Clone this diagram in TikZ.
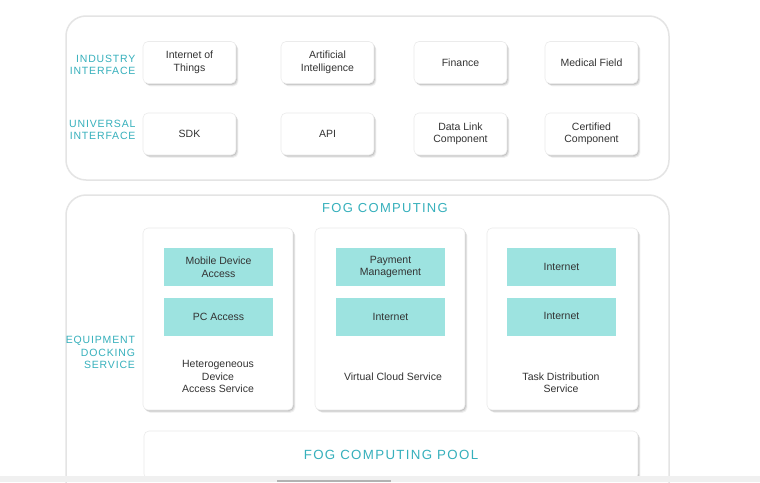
\documentclass[tikz,border=0pt]{standalone}
\usepackage{fontspec}
\setmainfont{Liberation Sans}
\newfontfamily\spacedfont[LetterSpace=8]{Liberation Sans}
\newfontfamily\bigspacedfont[LetterSpace=10]{Liberation Sans}
\usetikzlibrary{shadows}
\definecolor{teal1}{HTML}{36B0BC}
\definecolor{cellfill}{HTML}{9DE3E0}
\definecolor{txt}{HTML}{333333}
\definecolor{frame}{HTML}{E4E4E4}
\tikzset{
  whitebox/.style={draw=black!8, line width=0.6pt, fill=white, rounded corners=5pt, inner sep=0pt,
    drop shadow={shadow xshift=2.4pt, shadow yshift=-2.8pt, fill=black, opacity=0.06},
    drop shadow={shadow xshift=1.6pt, shadow yshift=-1.9pt, fill=black, opacity=0.09},
    drop shadow={shadow xshift=0.8pt, shadow yshift=-1pt, fill=black, opacity=0.10}},
  itembox/.style={whitebox, minimum width=93pt, minimum height=42pt, align=center,
    font=\fontsize{10.5}{12.5}\selectfont, text=txt},
  cell/.style={fill=cellfill, draw=none, minimum width=109pt, minimum height=38pt, align=center,
    font=\fontsize{10.5}{12.5}\selectfont, text=txt, inner sep=0pt},
  sidelabel/.style={align=right, anchor=east, text=teal1, font=\spacedfont\fontsize{10.5}{12.5}\selectfont},
  caption/.style={align=center, text=txt, font=\fontsize{10.5}{12.5}\selectfont},
  outerframe/.style={draw=frame, line width=1.5pt, rounded corners=20pt}
}
\begin{document}
\begin{tikzpicture}[x=1pt,y=-1pt]
\useasboundingbox (0,0) rectangle (760,482);
\fill[white] (0,0) rectangle (760,482);
% top frame
\draw[outerframe] (66,16) rectangle (669,180);
\node[sidelabel] (ind) at (139,65) {INDUSTRY\\INTERFACE};
\node[sidelabel] (uni) at (139,130) {UNIVERSAL\\INTERFACE};
\node[itembox] (iot) at (189.5,62.5) {Internet of\\Things};
\node[itembox] (ai) at (327.5,62.5) {Artificial\\Intelligence};
\node[itembox] (fin) at (460.5,62.5) {Finance};
\node[itembox] (med) at (591.5,62.5) {Medical Field};
\node[itembox] (sdk) at (189.5,134) {SDK};
\node[itembox] (api) at (327.5,134) {API};
\node[itembox] (dlc) at (460.5,134) {Data Link\\Component};
\node[itembox] (cc) at (591.5,134) {Certified\\Component};
% bottom frame
\draw[outerframe] (66,500) -- (66,195) -- (669,195) -- (669,500);
\node[text=teal1, font=\bigspacedfont\fontsize{13}{15}\selectfont] (fog) at (385,208.5) {FOG COMPUTING};
\node[sidelabel] (eds) at (138.5,352.5) {EQUIPMENT\\DOCKING\\SERVICE};
% service boxes
\node[whitebox, minimum width=150pt, minimum height=182pt] (s1) at (218,319) {};
\node[whitebox, minimum width=150pt, minimum height=182pt] (s2) at (390,319) {};
\node[whitebox, minimum width=151pt, minimum height=182pt] (s3) at (562.5,319) {};
\node[cell] (c11) at (218.5,267) {Mobile Device\\Access};
\node[cell] (c12) at (218.5,317) {PC Access};
\node[cell] (c21) at (390.5,267) {Payment\\Management};
\node[cell] (c22) at (390.5,317) {Internet};
\node[cell] (c31) at (561.5,267) {Internet};
\node[cell] (c32) at (561.5,317) {\raisebox{2pt}{Internet}};
\node[caption] (cap1) at (218,376.5) {Heterogeneous\\Device\\Access Service};
\node[caption] (cap2) at (393,376.5) {Virtual Cloud Service};
\node[caption] (cap3) at (561,382.5) {Task Distribution\\Service};
% pool
\node[whitebox, minimum width=494pt, minimum height=48pt, text=teal1,
  font=\bigspacedfont\fontsize{13.3}{15}\selectfont] (pool) at (391,455) {FOG COMPUTING POOL};
% bottom bar
\fill[black!6] (0,476) rectangle (760,482);
\fill[black!30] (277,479.5) rectangle (391,482);
\end{tikzpicture}
\end{document}
